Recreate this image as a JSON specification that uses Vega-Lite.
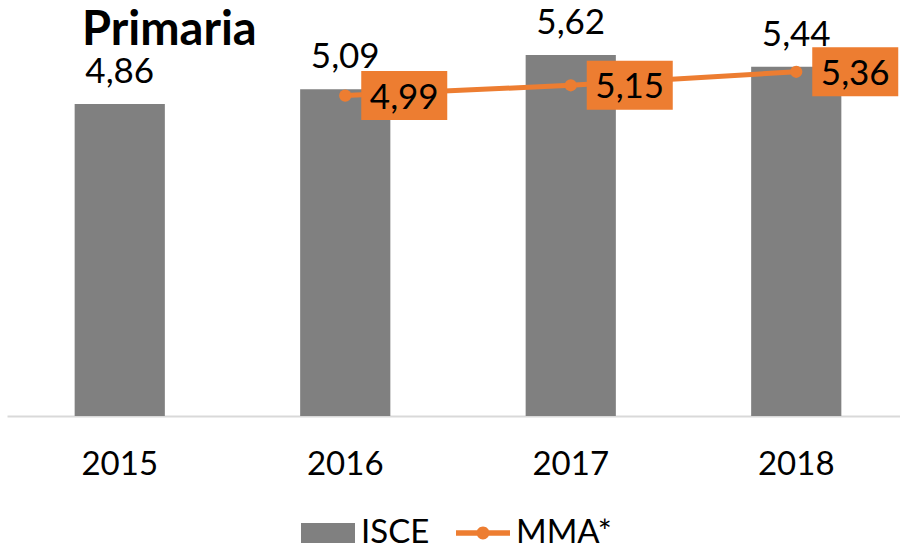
{
  "$schema": "https://vega.github.io/schema/vega-lite/v6.json",
  "autosize": {"type": "none"},
  "padding": {"left": 7, "top": 5, "right": 0, "bottom": 134},
  "width": 902,
  "height": 411,
  "background": "white",
  "title": {"text": "Primaria", "anchor": "start", "frame": "group", "offset": -50, "dx": 75, "fontSize": 47, "font": "Lato", "fontWeight": "bold", "color": "black"},
  "config": {
    "view": {"stroke": null},
    "locale": {"number": {"decimal": ",", "thousands": ".", "grouping": [3], "currency": ["", " €"]}},
    "font": "Lato"
  },
  "data": {"values": [
    {"year": "2015", "isce": 4.86, "mma": null},
    {"year": "2016", "isce": 5.09, "mma": 4.99},
    {"year": "2017", "isce": 5.62, "mma": 5.15},
    {"year": "2018", "isce": 5.44, "mma": 5.36}
  ]},
  "encoding": {
    "x": {"field": "year", "type": "ordinal", "scale": {"paddingInner": 0.6, "paddingOuter": 0.3},
      "axis": {"title": null, "labelAngle": 0, "labelFontSize": 33, "labelFont": "Lato", "labelColor": "black", "ticks": false, "labelPadding": 32, "domainColor": "#d9d9d9", "domainWidth": 2, "grid": false}}
  },
  "layer": [
    {
      "mark": {"type": "bar"},
      "encoding": {
        "y": {"field": "isce", "type": "quantitative", "scale": {"domain": [0, 6.4], "nice": false}, "axis": null},
        "color": {"datum": "ISCE", "type": "nominal", "scale": {"domain": ["ISCE", "MMA*"], "range": ["#808080", "#ED7D31"]},
          "legend": {"title": null, "orient": "none", "legendX": 294, "legendY": 501, "direction": "horizontal", "labelFontSize": 33, "labelFont": "Lato", "labelColor": "black", "symbolSize": 2916, "labelOffset": 6, "columnPadding": 26,
            "encode": {"symbols": {"update": {
              "shape": {"signal": "datum.value == 'ISCE' ? 'M-1,-0.37H1V0.37H-1Z' : 'M-1,-0.1H1V0.1H-1Z M0.24,0A0.24,0.24 0 1 1 -0.24,0A0.24,0.24 0 1 1 0.24,0Z'"},
              "fill": {"signal": "datum.value == 'ISCE' ? '#808080' : '#ED7D31'"},
              "strokeWidth": {"value": 0},
              "opacity": {"value": 1},
              "fillOpacity": {"value": 1}
            }}}}
        }
      }
    },
    {
      "mark": {"type": "text", "baseline": "bottom", "dy": -14, "fontSize": 35, "font": "Lato", "color": "black"},
      "encoding": {
        "y": {"field": "isce", "type": "quantitative"},
        "text": {"field": "isce", "type": "quantitative", "format": ".2f"}
      }
    },
    {
      "transform": [{"filter": "isValid(datum.mma)"}],
      "mark": {"type": "line", "strokeWidth": 5, "point": {"filled": true, "size": 150, "opacity": 1}},
      "encoding": {
        "y": {"field": "mma", "type": "quantitative"},
        "color": {"datum": "MMA*", "type": "nominal"}
      }
    },
    {
      "transform": [{"filter": "isValid(datum.mma)"}],
      "mark": {"type": "point", "shape": "M-1,-0.57H1V0.57H-1Z", "size": 7396, "filled": true, "opacity": 1, "color": "#ED7D31", "xOffset": 59},
      "encoding": {
        "y": {"field": "mma", "type": "quantitative"}
      }
    },
    {
      "transform": [{"filter": "isValid(datum.mma)"}],
      "mark": {"type": "text", "baseline": "middle", "fontSize": 35, "font": "Lato", "color": "black", "xOffset": 59, "dy": 2},
      "encoding": {
        "y": {"field": "mma", "type": "quantitative"},
        "text": {"field": "mma", "type": "quantitative", "format": ".2f"}
      }
    }
  ]
}
